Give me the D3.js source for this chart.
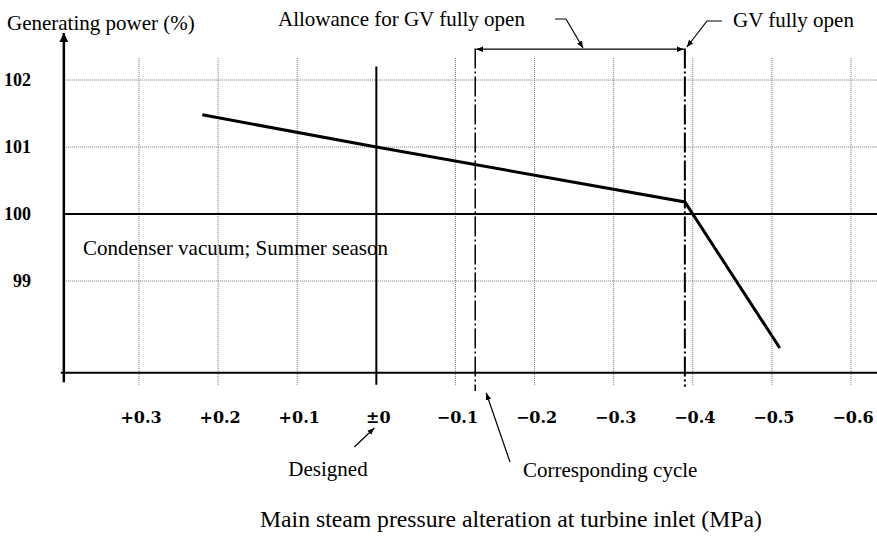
<!DOCTYPE html>
<html>
<head>
<meta charset="utf-8">
<script src="https://cdn.jsdelivr.net/npm/d3@7"></script>
<style>
  body { margin: 0; background: #fff; }
  svg { display: block; }
  text { font-family: "Liberation Serif", "Times New Roman", serif; fill: #000; }
</style>
</head>
<body>
<div id="chart"></div>
<script>
// main steam pressure alteration (MPa) vs generating power (%)
var pressure = [0.22, 0, -0.39, -0.51];
var power = [101.48, 101.0, 100.18, 98.0];

var xTicks = [0.3, 0.2, 0.1, 0, -0.1, -0.2, -0.3, -0.4, -0.5, -0.6];
var xTickLabels = ["+0.3", "+0.2", "+0.1", "\u00b10", "\u22120.1", "\u22120.2", "\u22120.3", "\u22120.4", "\u22120.5", "\u22120.6"];
var yTicks = [102, 101, 100, 99];
var yTickLabels = ["102", "101", "100", "99"];

var gvOpen = -0.39;       // GV fully open
var cycleLine = -0.125;   // corresponding cycle

var width = 877, height = 536;

var svg = d3.select("#chart")
	.append("svg")
	.attr("width", width)
	.attr("height", height);

var x = d3.scaleLinear()
	.domain([0.3, -0.6])
	.range([139, 851]);

var y = d3.scaleLinear()
	.domain([102, 99])
	.range([80, 281]);

var xAxisValue = 97.63;   // where the x axis sits
var yAxisValue = 0.395;   // where the y axis sits

var defs = svg.append("defs");
defs.append("marker")
	.attr("id", "head")
	.attr("viewBox", "0 0 10 10")
	.attr("refX", 10).attr("refY", 5)
	.attr("markerWidth", 7).attr("markerHeight", 7)
	.attr("orient", "auto-start-reverse")
	.attr("markerUnits", "userSpaceOnUse")
	.append("path")
	.attr("d", "M0,1 L10,5 L0,9 Z")
	.attr("fill", "#000");

defs.append("marker")
	.attr("id", "bighead")
	.attr("viewBox", "0 0 10 10")
	.attr("refX", 10).attr("refY", 5)
	.attr("markerWidth", 11).attr("markerHeight", 9)
	.attr("orient", "auto")
	.attr("markerUnits", "userSpaceOnUse")
	.append("path")
	.attr("d", "M0,0 L10,5 L0,10 Z")
	.attr("fill", "#000");

var grid = svg.append("g");

// dotted vertical grid
grid.selectAll(".vgrid")
	.data(xTicks.filter(function(d) { return d !== 0; }))
	.enter()
	.append("line")
	.attr("x1", function(d) { return x(d); })
	.attr("x2", function(d) { return x(d); })
	.attr("y1", y(102.33))
	.attr("y2", y(97.45))
	.attr("stroke", "#777")
	.attr("stroke-width", 1)
	.attr("stroke-dasharray", "1,1");

// dotted horizontal grid
grid.selectAll(".hgrid")
	.data(yTicks.filter(function(d) { return d !== 100; }))
	.enter()
	.append("line")
	.attr("x1", x(yAxisValue))
	.attr("x2", width)
	.attr("y1", function(d) { return y(d); })
	.attr("y2", function(d) { return y(d); })
	.attr("stroke", "#777")
	.attr("stroke-width", 1)
	.attr("stroke-dasharray", "1,1");

// 100% reference line
svg.append("line")
	.attr("x1", x(yAxisValue)).attr("x2", width)
	.attr("y1", y(100)).attr("y2", y(100))
	.attr("stroke", "#000").attr("stroke-width", 2);

// designed (zero) line
svg.append("line")
	.attr("x1", x(0)).attr("x2", x(0))
	.attr("y1", y(102.2)).attr("y2", y(97.45))
	.attr("stroke", "#000").attr("stroke-width", 2);

// x axis
svg.append("line")
	.attr("x1", x(yAxisValue) - 3).attr("x2", width)
	.attr("y1", y(xAxisValue)).attr("y2", y(xAxisValue))
	.attr("stroke", "#000").attr("stroke-width", 2);

// y axis with arrow
svg.append("line")
	.attr("x1", x(yAxisValue)).attr("x2", x(yAxisValue))
	.attr("y1", y(97.49)).attr("y2", y(102.7))
	.attr("stroke", "#000").attr("stroke-width", 2.5)
	.attr("marker-end", "url(#bighead)");

// dash-dot lines
svg.selectAll(".dashdot")
	.data([cycleLine, gvOpen])
	.enter()
	.append("line")
	.attr("x1", function(d) { return x(d); })
	.attr("x2", function(d) { return x(d); })
	.attr("y1", y(102.47))
	.attr("y2", function(d, i) { return i === 0 ? y(97.36) : y(97.42); })
	.attr("stroke", "#000")
	.attr("stroke-width", function(d, i) { return i === 0 ? 1.5 : 2; })
	.attr("stroke-dasharray", "20,3,2,3");

// allowance double arrow
svg.append("line")
	.attr("x1", x(cycleLine) + 1).attr("x2", x(gvOpen) - 1)
	.attr("y1", y(102.46)).attr("y2", y(102.46))
	.attr("stroke", "#000").attr("stroke-width", 1.3)
	.attr("marker-start", "url(#head)")
	.attr("marker-end", "url(#head)");

// the curve
var line = d3.line()
	.x(function(d) { return x(d[0]); })
	.y(function(d) { return y(d[1]); });

svg.append("path")
	.datum(d3.zip(pressure, power))
	.attr("d", line)
	.attr("fill", "none")
	.attr("stroke", "#000")
	.attr("stroke-width", 3)
	.attr("stroke-linejoin", "miter");

// tick labels
svg.selectAll(".ylab")
	.data(yTicks)
	.enter()
	.append("text")
	.attr("x", 31)
	.attr("y", function(d) { return y(d); })
	.attr("dy", "0.35em")
	.attr("text-anchor", "end")
	.style("font-size", "18px")
	.style("font-weight", "bold")
	.text(function(d, i) { return yTickLabels[i]; });

svg.selectAll(".xlab")
	.data(xTicks)
	.enter()
	.append("text")
	.attr("x", function(d) { return x(d) + 2; })
	.attr("y", 423)
	.attr("text-anchor", "middle")
	.style("font-family", "'DejaVu Serif', serif")
	.style("font-size", "16px")
	.style("font-weight", "bold")
	.text(function(d, i) { return xTickLabels[i]; });

// titles and notes
svg.append("text")
	.attr("x", 7).attr("y", 30)
	.style("font-size", "21px")
	.text("Generating power (%)");

svg.append("text")
	.attr("x", 278).attr("y", 26)
	.style("font-size", "21px")
	.text("Allowance for GV fully open");

svg.append("text")
	.attr("x", 733).attr("y", 27)
	.style("font-size", "21px")
	.text("GV fully open");

svg.append("text")
	.attr("x", 83).attr("y", 255)
	.style("font-size", "21px")
	.text("Condenser vacuum; Summer season");

svg.append("text")
	.attr("x", x(0) - 88).attr("y", 476)
	.style("font-size", "21px")
	.text("Designed");

svg.append("text")
	.attr("x", 523).attr("y", 477)
	.style("font-size", "21px")
	.text("Corresponding cycle");

svg.append("text")
	.attr("x", 260).attr("y", 527)
	.style("font-size", "23.7px")
	.text("Main steam pressure alteration at turbine inlet (MPa)");

// leader arrows
var leader = d3.line();

svg.append("path")
	.attr("d", leader([[x(0) - 22, 447], [x(0) - 2, 428]]))
	.attr("fill", "none").attr("stroke", "#000").attr("stroke-width", 1.2)
	.attr("marker-end", "url(#head)");

svg.append("path")
	.attr("d", leader([[510, 462], [x(cycleLine) + 11, 393]]))
	.attr("fill", "none").attr("stroke", "#000").attr("stroke-width", 1.2)
	.attr("marker-end", "url(#head)");

svg.append("path")
	.attr("d", leader([[555, 19], [566, 19], [583, 48]]))
	.attr("fill", "none").attr("stroke", "#000").attr("stroke-width", 1.2)
	.attr("marker-end", "url(#head)");

svg.append("path")
	.attr("d", leader([[722, 21], [707, 21], [x(gvOpen) + 2, 47]]))
	.attr("fill", "none").attr("stroke", "#000").attr("stroke-width", 1.2)
	.attr("marker-end", "url(#head)");
</script>
</body>
</html>
